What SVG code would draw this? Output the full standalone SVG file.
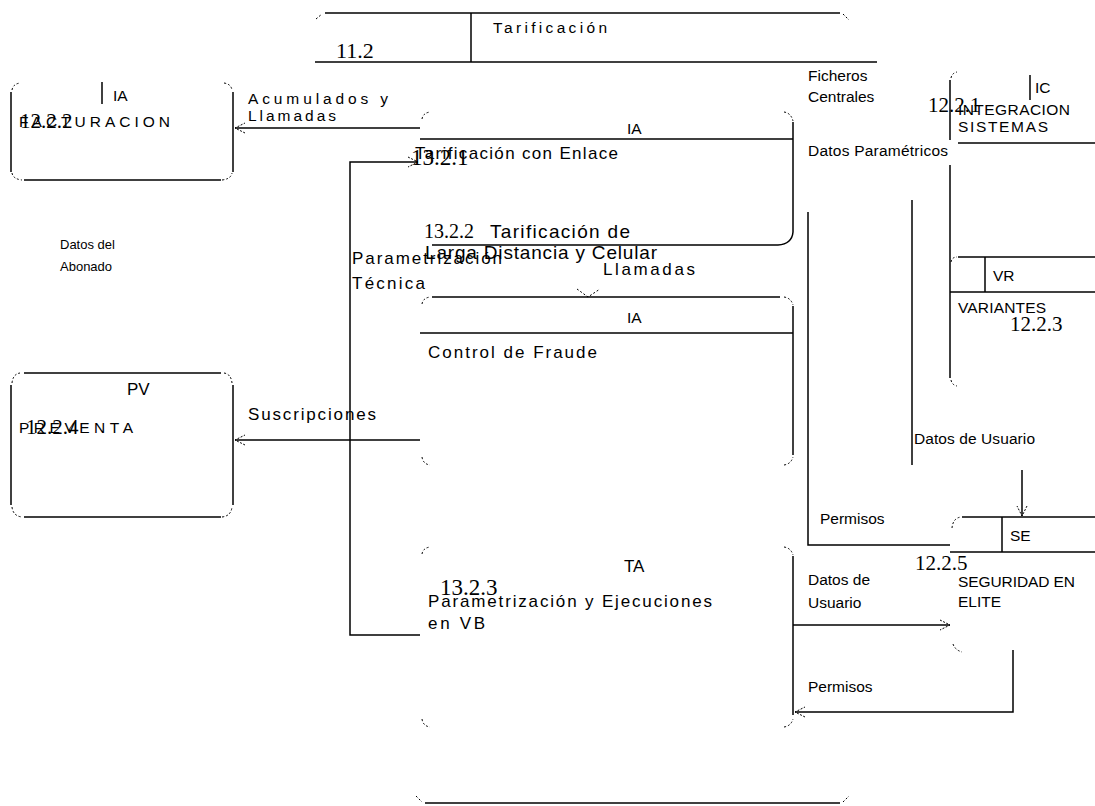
<svg xmlns="http://www.w3.org/2000/svg" width="1095" height="806" viewBox="0 0 1095 806">
<style>
.ln{stroke:#000;stroke-width:1.5;fill:none}
.tk{stroke:#000;stroke-width:1;stroke-dasharray:2 2;fill:none}
.t{font-family:"Liberation Sans",Arial,sans-serif;font-size:17px;fill:#000}
.r{font-family:"Liberation Sans",Arial,sans-serif;font-size:15.5px;fill:#000}
.s{font-family:"Liberation Sans",Arial,sans-serif;font-size:13px;fill:#000}
.big{font-family:"Liberation Sans",Arial,sans-serif;font-size:19px;fill:#000}
.n{font-family:"Liberation Serif","Times New Roman",serif;font-size:21px;fill:#000}
.n2{font-family:"Liberation Serif","Times New Roman",serif;font-size:23px;fill:#000}
</style>
<defs>
<marker id="ah" viewBox="0 0 12 12" refX="11" refY="6" markerWidth="12" markerHeight="12" markerUnits="userSpaceOnUse" orient="auto">
<path d="M1,1 L11,6 L1,11" fill="none" stroke="#000" stroke-width="1" stroke-dasharray="2 1.5"/>
</marker>
</defs>
<rect width="1095" height="806" fill="#fff"/>

<g id="frame-11-2">
<line class="ln" x1="325" y1="13" x2="840" y2="13"/>
<line class="ln" x1="315" y1="62" x2="877" y2="62"/>
<line class="ln" x1="471" y1="13" x2="471" y2="62"/>
<path class="tk" d="M316,19 L322,14"/>
<path class="tk" d="M843,14 L849,20"/>
<line class="ln" x1="425" y1="803" x2="840" y2="803"/>
<path class="tk" d="M416,796 L422,802"/>
<path class="tk" d="M843,802 L849,796"/>
<text class="n" x="336" y="58" style="font-size:22px">11.2</text>
<text class="r" x="493" y="33" textLength="114">Tarificación</text>
</g>

<g id="store-12-2-2">
<line class="ln" x1="11" y1="92" x2="11" y2="172"/>
<line class="ln" x1="233" y1="92" x2="233" y2="172"/>
<line class="ln" x1="24" y1="180" x2="221" y2="180"/>
<path class="tk" d="M12,90 Q13,84 20,83"/>
<path class="tk" d="M224,83 Q231,84 232,90"/>
<path class="tk" d="M12,173 Q13,179 22,180"/>
<path class="tk" d="M222,180 Q231,179 232,173"/>
<line class="ln" x1="102" y1="82" x2="102" y2="104"/>
<text class="r" x="113" y="101">IA</text>
<text class="r" x="19" y="127" textLength="151">FACTURACION</text>
<text class="n" x="20" y="128">12.2.2</text>
</g>

<g id="store-12-2-4">
<line class="ln" x1="11" y1="385" x2="11" y2="505"/>
<line class="ln" x1="233" y1="385" x2="233" y2="505"/>
<line class="ln" x1="24" y1="373" x2="221" y2="373"/>
<line class="ln" x1="24" y1="517" x2="221" y2="517"/>
<path class="tk" d="M12,383 Q13,374 20,373"/>
<path class="tk" d="M224,373 Q231,374 232,383"/>
<path class="tk" d="M12,507 Q13,516 22,517"/>
<path class="tk" d="M222,517 Q231,516 232,507"/>
<text class="t" x="127" y="395">PV</text>
<text class="r" x="19" y="433" textLength="114">PREVENTA</text>
<text class="n" x="26" y="434">12.2.4</text>
</g>

<g id="proc-13-2-1">
<line class="ln" x1="420" y1="139" x2="793" y2="139"/>
<path class="ln" d="M793,122 L793,232 Q792,244 778,245 L432,245"/>
<path class="tk" d="M422,119 Q423,113 430,112"/>
<path class="tk" d="M784,112 Q791,113 793,121"/>
<text class="r" x="627" y="134">IA</text>
<text class="t" x="415" y="159" textLength="203">Tarificación con Enlace</text>
<text class="n2" x="411" y="165">13.2.1</text>
</g>

<g id="proc-13-2-2">
<text class="n" x="424" y="238" style="font-size:20px">13.2.2</text>
<text class="big" x="490" y="238" textLength="140">Tarificación de</text>
<text class="big" x="425" y="259" textLength="232">Larga Distancia y Celular</text>
</g>

<g id="proc-13-2-fraude">
<line class="ln" x1="432" y1="297" x2="780" y2="297"/>
<line class="ln" x1="420" y1="333" x2="793" y2="333"/>
<line class="ln" x1="793" y1="306" x2="793" y2="455"/>
<path class="tk" d="M422,304 Q423,298 430,297"/>
<path class="tk" d="M784,297 Q791,298 793,305"/>
<path class="tk" d="M422,457 Q423,464 430,465"/>
<path class="tk" d="M784,465 Q791,464 793,457"/>
<text class="r" x="627" y="323">IA</text>
<text class="t" x="428" y="358" textLength="169">Control de Fraude</text>
</g>

<g id="proc-13-2-3">
<line class="ln" x1="793" y1="556" x2="793" y2="715"/>
<path class="tk" d="M422,554 Q423,548 430,547"/>
<path class="tk" d="M784,547 Q791,548 793,555"/>
<path class="tk" d="M422,719 Q423,726 430,727"/>
<path class="tk" d="M784,727 Q791,726 793,719"/>
<text class="t" x="624" y="572">TA</text>
<text class="t" x="428" y="607" textLength="284">Parametrización y Ejecuciones</text>
<text class="t" x="428" y="629" textLength="57">en VB</text>
<text class="n2" x="440" y="595">13.2.3</text>
</g>

<g id="store-12-2-1">
<line class="ln" x1="950" y1="80" x2="950" y2="140"/>
<line class="ln" x1="958" y1="143" x2="1095" y2="143"/>
<line class="ln" x1="1030" y1="75" x2="1030" y2="100"/>
<path class="tk" d="M951,78 Q952,73 957,72"/>
<text class="r" x="1035" y="93">IC</text>
<text class="r" x="958" y="115" textLength="112">INTEGRACION</text>
<text class="r" x="958" y="132" textLength="90">SISTEMAS</text>
<text class="n" x="928" y="112">12.2.1</text>
</g>

<g id="store-12-2-3">
<line class="ln" x1="958" y1="257" x2="1095" y2="257"/>
<line class="ln" x1="950" y1="292" x2="1095" y2="292"/>
<line class="ln" x1="985" y1="257" x2="985" y2="292"/>
<line class="ln" x1="950" y1="165" x2="950" y2="378"/>
<path class="tk" d="M951,262 Q952,257 957,257"/>
<path class="tk" d="M951,380 Q952,385 957,386"/>
<text class="r" x="993" y="281">VR</text>
<text class="r" x="958" y="313" textLength="88">VARIANTES</text>
<text class="n" x="1010" y="331">12.2.3</text>
</g>

<g id="store-12-2-5">
<line class="ln" x1="962" y1="517" x2="1095" y2="517"/>
<line class="ln" x1="950" y1="552" x2="1095" y2="552"/>
<line class="ln" x1="1002" y1="517" x2="1002" y2="552"/>
<path class="tk" d="M952,528 Q953,518 961,517"/>
<path class="tk" d="M953,644 Q955,650 962,652"/>
<text class="r" x="1010" y="541">SE</text>
<text class="r" x="958" y="587" textLength="117">SEGURIDAD EN</text>
<text class="r" x="958" y="607">ELITE</text>
<text class="n" x="915" y="570">12.2.5</text>
</g>

<g id="connectors">
<line class="ln" x1="420" y1="128" x2="235" y2="128" marker-end="url(#ah)"/>
<text class="r" x="248" y="104" textLength="140">Acumulados y</text>
<text class="r" x="248" y="121" textLength="88">Llamadas</text>
<line class="ln" x1="420" y1="440" x2="235" y2="440" marker-end="url(#ah)"/>
<text class="t" x="248" y="420" textLength="128">Suscripciones</text>
<polyline class="ln" points="420,635 350,635 350,162 418,162" marker-end="url(#ah)"/>
<text class="t" x="352" y="264" textLength="150">Parametrización</text>
<text class="t" x="352" y="289" textLength="73">Técnica</text>
<text class="s" x="60" y="249">Datos del</text>
<text class="s" x="60" y="271">Abonado</text>
<path class="tk" d="M577,289 L588,297 L600,289"/>
<text class="t" x="603" y="275" textLength="92">Llamadas</text>
<text class="r" x="808" y="81">Ficheros</text>
<text class="r" x="808" y="102">Centrales</text>
<text class="r" x="808" y="156" textLength="140">Datos Paramétricos</text>
<polyline class="ln" points="950,545 808,545 808,212"/>
<text class="r" x="820" y="524">Permisos</text>
<line class="ln" x1="912" y1="200" x2="912" y2="465"/>
<text class="r" x="914" y="444" textLength="121">Datos de Usuario</text>
<line class="ln" x1="1022" y1="470" x2="1022" y2="516" marker-end="url(#ah)"/>
<line class="ln" x1="793" y1="625" x2="950" y2="625" marker-end="url(#ah)"/>
<text class="r" x="808" y="585">Datos de</text>
<text class="r" x="808" y="608">Usuario</text>
<polyline class="ln" points="1013,650 1013,712 795,712" marker-end="url(#ah)"/>
<text class="r" x="808" y="692">Permisos</text>
</g>
</svg>
